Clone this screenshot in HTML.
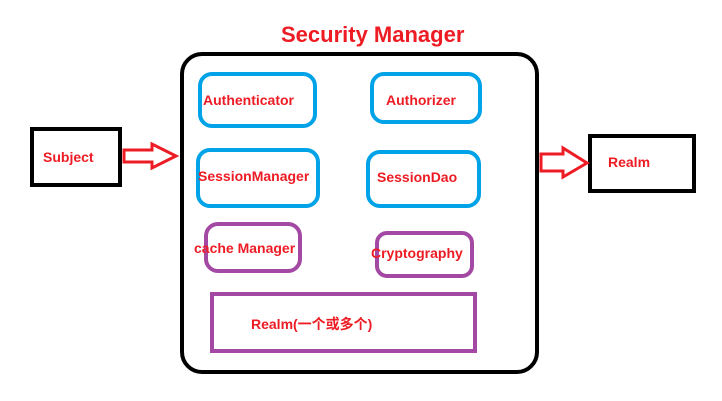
<!DOCTYPE html>
<html><head><meta charset="utf-8"><style>
html,body{margin:0;padding:0;background:#fff;width:722px;height:401px;overflow:hidden}
text{font-family:"Liberation Sans","Noto Sans CJK SC",sans-serif;font-weight:bold;fill:#ed1c24}
</style></head><body>
<svg width="722" height="401" xmlns="http://www.w3.org/2000/svg">
<text x="281" y="42" font-size="22">Security Manager</text>
<rect x="182" y="54" width="355" height="318" rx="20" fill="none" stroke="#000" stroke-width="4"/>
<rect x="32" y="129" width="88" height="56" fill="none" stroke="#000" stroke-width="4"/>
<text x="43" y="162" font-size="14">Subject</text>
<rect x="590" y="136" width="104" height="55" fill="none" stroke="#000" stroke-width="4"/>
<text x="608" y="167" font-size="14">Realm</text>
<polygon points="124,150 152,150 152,144 176,156 152,168 152,162 124,162" fill="none" stroke="#ed1c24" stroke-width="3"/>
<polygon points="541,154 563,154 563,148 587,163 563,177 563,171 541,171" fill="none" stroke="#ed1c24" stroke-width="3"/>
<g fill="none" stroke="#00a2e8" stroke-width="4">
<rect x="200" y="74" width="115" height="52" rx="12"/>
<rect x="372" y="74" width="108" height="48" rx="12"/>
<rect x="198" y="150" width="120" height="56" rx="12"/>
<rect x="368" y="152" width="111" height="54" rx="12"/>
</g>
<g fill="none" stroke="#a349a4" stroke-width="4">
<rect x="206" y="224" width="94" height="47" rx="12"/>
<rect x="377" y="233" width="95" height="43" rx="10"/>
<rect x="212" y="294" width="263" height="57"/>
</g>
<text x="203" y="105" font-size="14">Authenticator</text>
<text x="386" y="105" font-size="14">Authorizer</text>
<text x="198" y="181" font-size="14">SessionManager</text>
<text x="377" y="182" font-size="14">SessionDao</text>
<text x="194" y="253" font-size="14">cache Manager</text>
<text x="371" y="258" font-size="14">Cryptography</text>
<text x="251" y="329" font-size="14">Realm(一个或多个)</text>
</svg>
</body></html>
